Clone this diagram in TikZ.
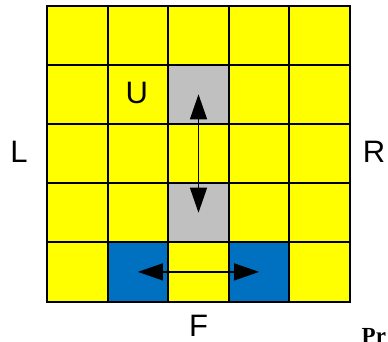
\documentclass[tikz,border=0pt]{standalone}
\usepackage{fontspec}
\setmainfont{Liberation Sans}
\newfontfamily\serifbf{Liberation Serif}
\usepackage{xcolor}
\usetikzlibrary{arrows.meta}
\definecolor{cellyellow}{RGB}{255,255,0}
\definecolor{cellgray}{RGB}{192,192,192}
\definecolor{cellblue}{RGB}{0,112,192}

\begin{document}
\begin{tikzpicture}[x=1pt,y=-1pt,
  cell/.style={draw=black,line width=2pt,minimum width=60.6pt,minimum height=59.2pt,inner sep=0pt,outer sep=0pt},
  move/.style={line width=1.3pt,{Triangle[length=25pt,width=17pt]}-{Triangle[length=25pt,width=17pt]}},
  lbl/.style={font=\fontsize{31}{36}\selectfont}]
\useasboundingbox (0,0) rectangle (388,341);
% board
\foreach \c in {0,...,4}
  \foreach \r in {0,...,4}
    \node[cell,fill=cellyellow] (c-\c-\r) at ({47+60.6*(\c+0.5)},{5.5+59.2*(\r+0.5)}) {};
\foreach \c/\r/\col in {2/1/cellgray,2/3/cellgray,1/4/cellblue,3/4/cellblue}
  \node[cell,fill=\col] at (c-\c-\r) {};
% moves
\draw[move] (c-2-1.center) -- (c-2-3.center);
\draw[move] (c-1-4.center) -- (c-3-4.center);
% sides
\node[lbl] (labU) at (136.7,93) {U};
\node[lbl] (labL) at (19,152) {L};
\node[lbl] (labR) at (374,152) {R};
\node[lbl] (labF) at (198.5,326) {F};
\node[anchor=north west,inner sep=0pt,font=\serifbf\bfseries\fontsize{23}{26}\selectfont] (prob) at (361.5,328.3) {Pr};
\end{tikzpicture}
\end{document}
